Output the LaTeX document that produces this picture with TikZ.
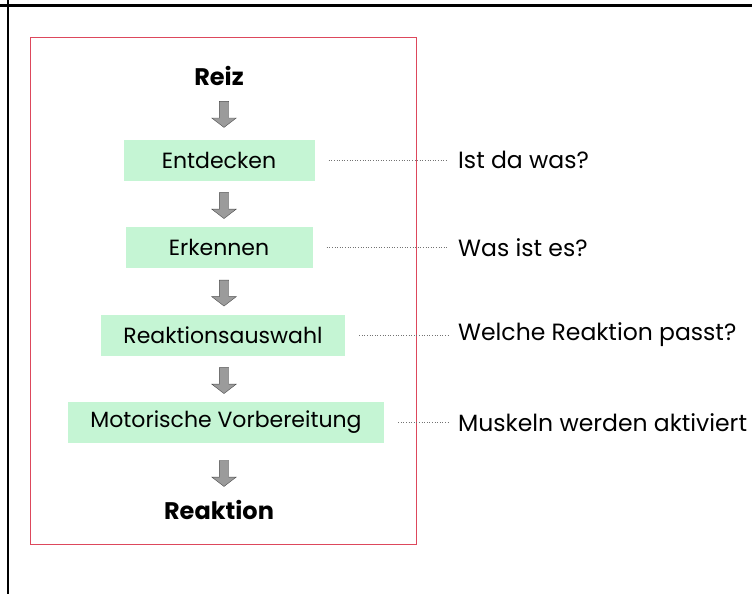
\documentclass[tikz,border=0pt]{standalone}
\usepackage{fontspec}
\setmainfont{Poppins}
\usetikzlibrary{positioning,shapes.arrows,calc}
\definecolor{stepgreen}{RGB}{197,245,212}
\definecolor{framered}{RGB}{221,72,92}
\definecolor{arrowgray}{RGB}{155,155,155}
\tikzset{
	stage/.style = {fill=stepgreen, minimum height=41pt, inner sep=0pt, font=\fontsize{22}{26}\selectfont},
	endpoint/.style = {inner sep=0pt, font=\fontsize{24}{28}\selectfont\bfseries},
	question/.style = {anchor=west, inner sep=0pt, font=\fontsize{23.5}{28}\selectfont},
	flowarrow/.style = {single arrow, draw=black!70, fill=arrowgray, rotate=-90, inner xsep=0pt, inner ysep=4.5pt,
		minimum height=26pt, single arrow head extend=7.5pt, single arrow tip angle=105},
	leader/.style = {draw=black!55, dotted, line width=0.6pt, shorten <=14pt, shorten >=10pt}
}

\begin{document}
\begin{tikzpicture}[x=1pt, y=-1pt, node distance=87.5pt, on grid]
	\useasboundingbox (0,0) rectangle (752,594);
	% page frame
	\draw[line width=3pt] (0,6) -- (752,6);
	\draw[line width=2pt] (8,0) -- (8,594);
	\draw[framered, line width=1pt] (30,38) rectangle (416,544);

	\coordinate (axis) at (224,0);
	\coordinate (qx) at (458,0);

	% chain of stages
	\node [endpoint] (reiz) at (219,76) {Reiz};
	\node [stage, minimum width=191pt, below=84pt of reiz] (entd) {Entdecken};
	\node [stage, minimum width=187pt, below=of entd] (erk) {Erkennen};
	\node [stage, minimum width=244pt, below=of erk, xshift=4pt] (wahl) {Reaktionsauswahl};
	\node [stage, minimum width=316pt, below=of wahl, xshift=3pt] (motor) {Motorische Vorbereitung};
	\node [endpoint, below=of motor, xshift=-7pt] (reakt) {Reaktion};

	\foreach \a/\b in {reiz/entd, entd/erk, erk/wahl, wahl/motor, motor/reakt} {
		\path ($(\a.south)!0.5!(\b.north)$) coordinate (mid);
		\node [flowarrow] at (mid -| axis) {};
	}

	% questions
	\node [question] (q1) at (entd.east -| qx) {Ist da was?};
	\node [question] (q2) at (erk.east -| qx) {Was ist es?};
	\node [question] (q3) at (wahl.east -| qx) {Welche Reaktion passt?};
	\node [question] (q4) at (motor.east -| qx) {Muskeln werden aktiviert};

	\draw [leader] (entd.east) -- (q1.west);
	\draw [leader] (erk.east) -- (q2.west);
	\draw [leader] (wahl.east) -- (q3.west);
	\draw [leader] (motor.east) -- (q4.west);
\end{tikzpicture}
\end{document}
